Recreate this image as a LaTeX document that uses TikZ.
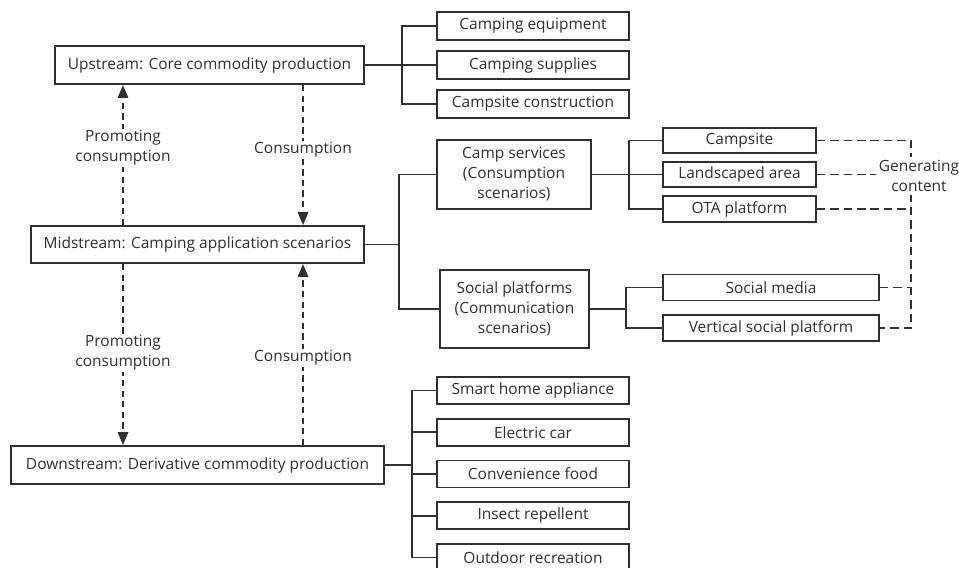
\documentclass[tikz,border=0pt]{standalone}
\usepackage{fontspec}
\setmainfont{Open Sans}
\usetikzlibrary{arrows.meta,positioning,calc}
\definecolor{ink}{HTML}{303030}
\begin{document}
\begin{tikzpicture}
[x=0.025cm,y=-0.025cm,
every node/.style={text=ink,font=\fontsize{11}{14.2}\selectfont,inner sep=1pt,align=center},
box/.style={draw=ink,fill=white,line width=1.4pt,minimum height=0.95cm},
leaf/.style={box,minimum width=4.8cm,minimum height=0.7cm},
tie/.style={draw=ink,line width=1.4pt},
flow/.style={draw=ink,line width=1.2pt,dash pattern=on 4.5pt off 3pt,-{Triangle[length=3.2mm,width=2.6mm]}},
gen/.style={draw=ink,line width=1.1pt,dash pattern=on 6pt off 3.5pt},
note/.style={fill=white}]
\useasboundingbox (0,0) rectangle (959,567);
\node[box,minimum width=7.725cm] (up) at (209.5,65) {Upstream: Core commodity production};
\node[box,minimum width=8.325cm,minimum height=0.925cm] (mid) at (197.5,244.5) {Midstream: Camping application scenarios};
\node[box,minimum width=9.325cm] (down) at (197.5,465) {Downstream: Derivative commodity production};
\node[leaf] (equip) at (533,26) {Camping equipment};
\node[leaf] (supply) at (533,65) {Camping supplies};
\node[leaf] (build) at (533,104) {Campsite construction};
\node[box,minimum width=3.85cm,minimum height=1.725cm] (serv) at (514,174.5) {Camp services\\(Consumption\\scenarios)};
\node[box,minimum width=3.725cm,minimum height=1.95cm] (social) at (514.5,309) {Social platforms\\(Communication\\scenarios)};
\node[box,minimum width=3.825cm,minimum height=0.63cm] (site) at (739.5,140.5) {Campsite};
\node[box,minimum width=3.825cm,minimum height=0.63cm] (land) at (739.5,174.5) {Landscaped area};
\node[box,minimum width=3.825cm,minimum height=0.63cm] (ota) at (739.5,209) {OTA platform};
\node[box,minimum width=5.4cm,minimum height=0.65cm] (media) at (771,287.5) {Social media};
\node[box,minimum width=5.4cm,minimum height=0.65cm] (vert) at (771,328) {Vertical social platform};
\foreach \t [count=\i] in {Smart home appliance,Electric car,Convenience food,Insect repellent,Outdoor recreation}
\node[leaf,minimum height=0.675cm] (d\i) at (533,{348.75+41.75*\i}) {\t};
\foreach \c in {equip,supply,build} \draw[tie] (up.east) -- ++(37,0) |- (\c.west);
\foreach \c in {serv,social} \draw[tie] (mid.east) -- ++(34,0) |- (\c.west);
\foreach \c in {site,land,ota} \draw[tie] (serv.east) -- ++(37,0) |- (\c.west);
\foreach \c in {media,vert} \draw[tie] (social.east) -- ++(36,0) |- (\c.west);
\foreach \i in {1,...,5} \draw[tie] (down.east) -- ++(27,0) |- (d\i.west);
\coordinate (pl) at (123,0);
\coordinate (cr) at (303,0);
\coordinate (gx) at (911,0);
\draw[flow] (mid.north -| pl) -- node[note,pos=.55]{Promoting\\consumption} (up.south -| pl);
\draw[flow] (up.south -| cr) -- node[note,pos=.465]{Consumption} (mid.north -| cr);
\draw[flow] (mid.south -| pl) -- node[note,pos=.49]{Promoting\\consumption} (down.north -| pl);
\draw[flow] (down.north -| cr) -- node[note,pos=.48]{Consumption} (mid.south -| cr);
\draw[gen] (site.east) -- (site.east -| gx) -- (vert.east -| gx) -- (vert.east);
\foreach \c in {land,ota,media} \draw[gen] (\c.east) -- (\c.east -| gx);
\node[note,inner sep=2pt] (gc) at (919,176) {Generating\\content};
\end{tikzpicture}
\end{document}
